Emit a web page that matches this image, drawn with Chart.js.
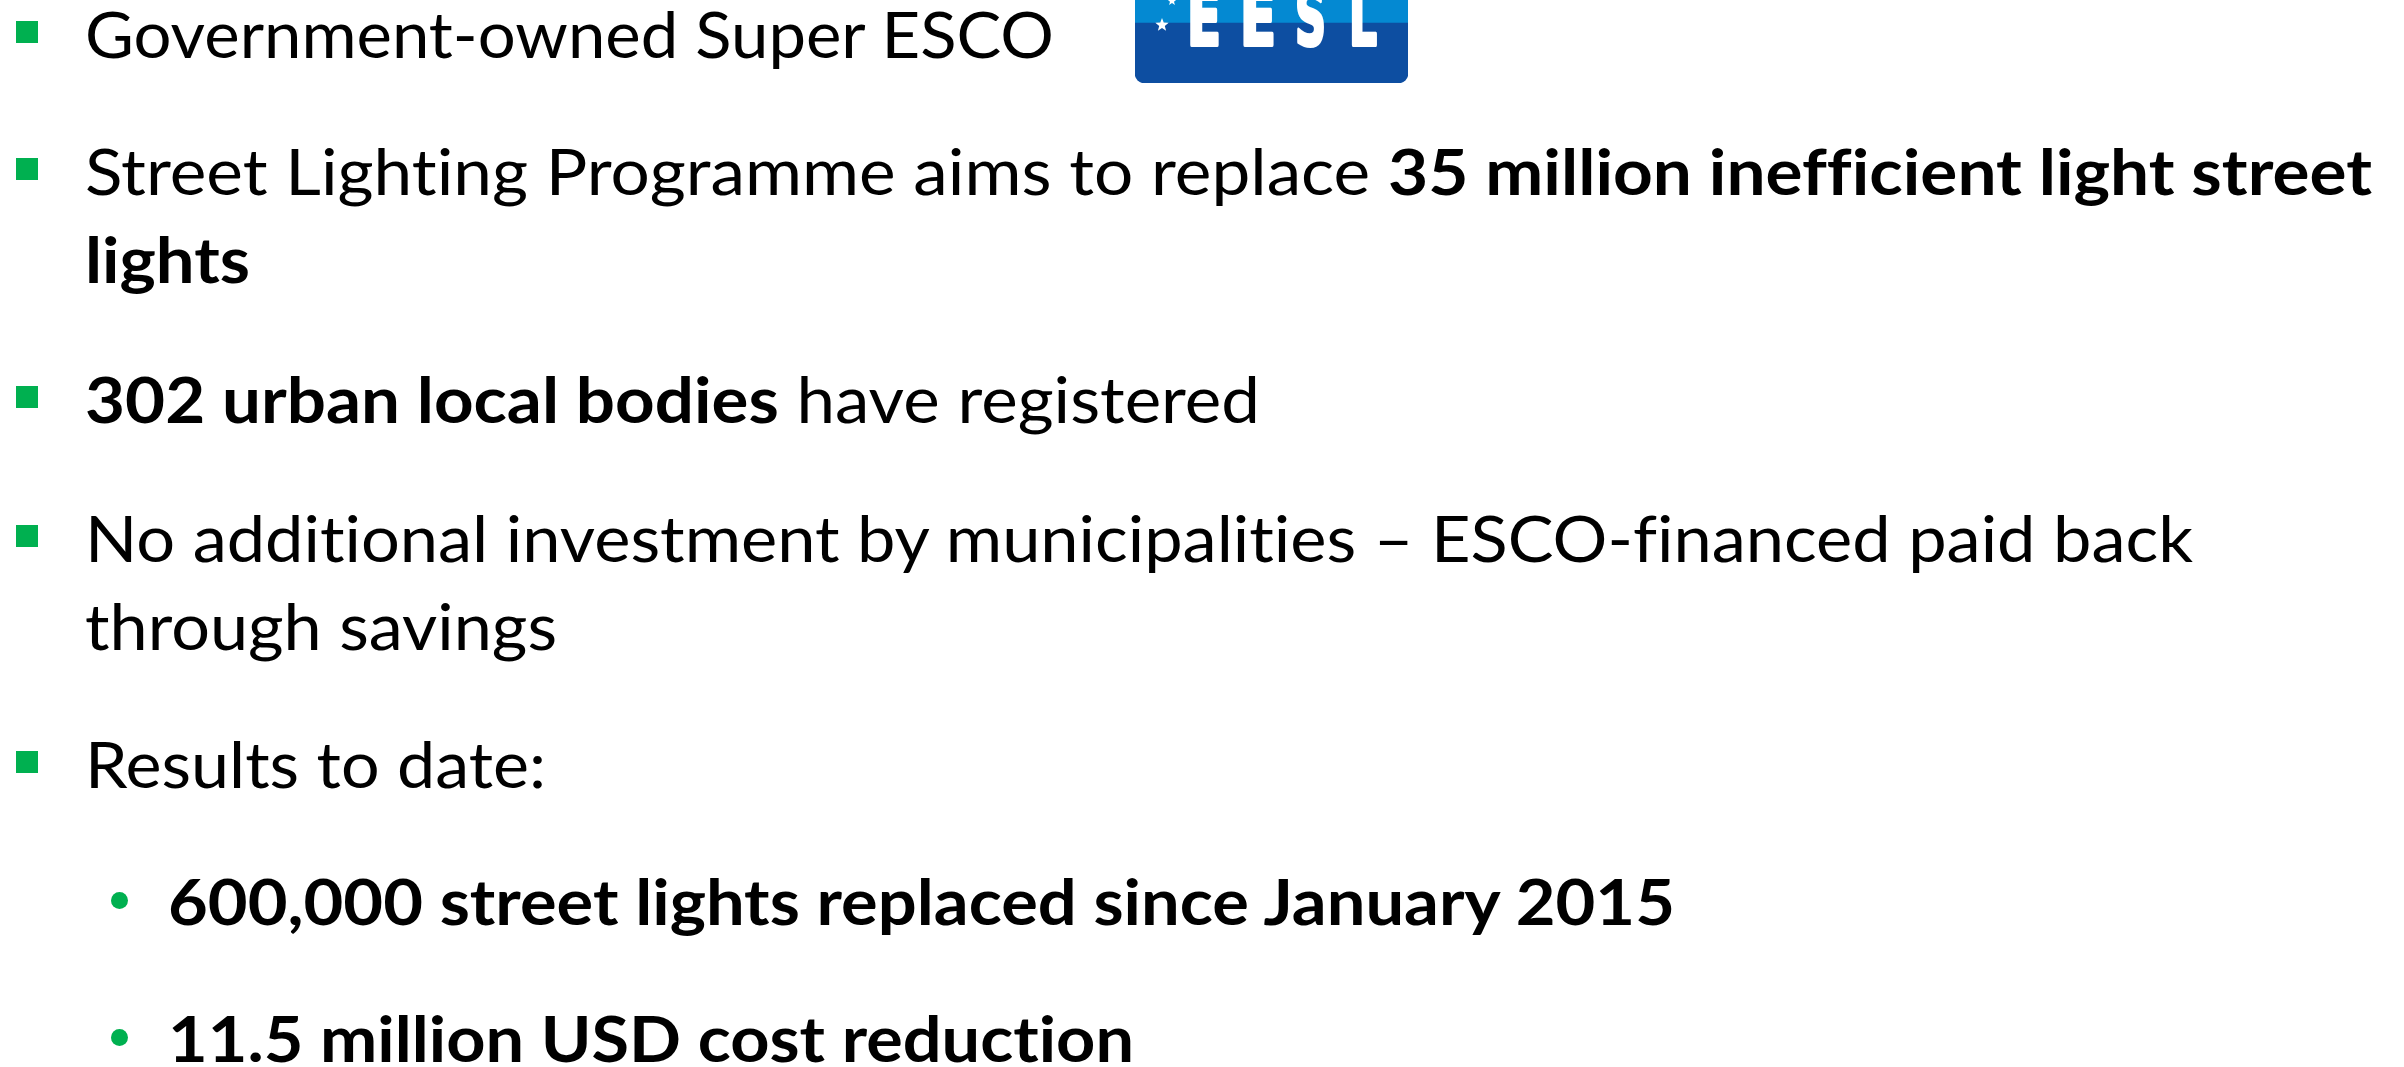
<!DOCTYPE html>
<html>
<head>
<meta charset="utf-8">
<title>EESL street lighting</title>
<script src="https://cdn.jsdelivr.net/npm/chart.js@4.4.1/dist/chart.umd.min.js"></script>
<style>
  html, body { margin: 0; padding: 0; background: #fff; }
  body {
    width: 2404px; height: 1067px; overflow: hidden; position: relative;
    font-family: Lato, "Open Sans", sans-serif; color: #000;
  }
  .line {
    position: absolute; white-space: nowrap; font-size: 64px; line-height: 0.72;
    transform-origin: 0 0; font-variant-ligatures: none;
  }
  .line .b { font-weight: 700; }
  .square { position: absolute; width: 22px; height: 22px; background: #00b050; }
  .dot { position: absolute; width: 17px; height: 17px; border-radius: 50%; background: #00b050; }
  #logo-wrap { position: absolute; left: 1135px; top: 0; width: 273px; height: 83px; }
</style>
</head>
<body>
<div id="logo-wrap"><canvas id="logo" width="273" height="83"></canvas></div>

<script>
// slide text, one entry per line: [text, bold]
const bulletText = [
  [['Government-owned Super ESCO', false]],
  [['Street Lighting Programme aims to replace ', false], ['35 million inefficient light street', true]],
  [['lights', true]],
  [['302 urban local bodies', true], [' have registered', false]],
  [['No additional investment by municipalities \u2013 ESCO-financed paid back', false]],
  [['through savings', false]],
  [['Results to date:', false]],
  [['600,000 street lights replaced since January 2015', true]],
  [['11.5 million USD cost reduction', true]]
];
const bulletMarker = ['square', 'square', '', 'square', 'square', '', 'square', 'dot', 'dot'];

// logo bands (bottom dark, top light), in logo pixels
const logoLabels = ['EESL'];
const logoDark = [60];
const logoLight = [23];

// layout measured off the slide
const lineLeft = [85, 85, 85, 85, 85, 85, 85, 168, 168];
const lineBaseline = [58, 195, 283, 423, 562, 650, 788, 925, 1062];
const lineWidth = [969, 2287, 165, 1175, 2108, 472, 461, 1507, 966];

function buildLines() {
  bulletText.forEach((parts, i) => {
    const line = document.createElement('div');
    line.className = 'line';
    parts.forEach(([text, bold]) => {
      const span = document.createElement('span');
      if (bold) span.className = 'b';
      span.textContent = text;
      line.appendChild(span);
    });
    // zero-size box sitting on the baseline, used to find it
    const probe = document.createElement('span');
    probe.style.cssText = 'display:inline-block;width:0;height:0;';
    line.appendChild(probe);
    line.style.left = lineLeft[i] + 'px';
    line.style.top = '0px';
    document.body.appendChild(line);

    const natural = line.getBoundingClientRect().width;
    const base = probe.getBoundingClientRect().top - line.getBoundingClientRect().top;
    line.style.top = (lineBaseline[i] - base) + 'px';
    line.style.transform = 'scaleX(' + (lineWidth[i] / natural) + ')';

    if (bulletMarker[i] === 'square') {
      const sq = document.createElement('div');
      sq.className = 'square';
      sq.style.left = '16px';
      sq.style.top = (lineBaseline[i] - 37) + 'px';
      document.body.appendChild(sq);
    } else if (bulletMarker[i] === 'dot') {
      const dot = document.createElement('div');
      dot.className = 'dot';
      dot.style.left = '111px';
      dot.style.top = (lineBaseline[i] - 33) + 'px';
      document.body.appendChild(dot);
    }
  });
}

// white lettering and stars on top of the logo bars
const logoMark = {
  id: 'logoMark',
  afterDatasetsDraw(chart) {
    const ctx = chart.ctx;
    ctx.save();
    ctx.fillStyle = '#fff';
    ctx.strokeStyle = '#fff';
    ctx.lineWidth = 4;
    ctx.lineJoin = 'round';
    ctx.font = 'bold 78px "DejaVu Sans"';
    ctx.textBaseline = 'alphabetic';
    const boxes = [[52, 34], [105, 36], [160, 31], [214, 28]];
    logoLabels[0].split('').forEach((ch, k) => {
      const w = ctx.measureText(ch).width;
      ctx.save();
      ctx.translate(boxes[k][0], 45);
      ctx.scale(boxes[k][1] / w, 1);
      ctx.fillText(ch, 0, 0);
      ctx.strokeText(ch, 0, 0);
      ctx.restore();
    });
    const star = (cx, cy, r) => {
      ctx.beginPath();
      for (let p = 0; p < 10; p++) {
        const rr = p % 2 ? r * 0.42 : r;
        const a = -Math.PI / 2 + p * Math.PI / 5;
        ctx.lineTo(cx + rr * Math.cos(a), cy + rr * Math.sin(a));
      }
      ctx.closePath();
      ctx.fill();
    };
    star(27, 25, 7);
    star(37, 1, 5);
    ctx.restore();
  }
};

function buildLogo() {
  const ctx = document.getElementById('logo').getContext('2d');
  new Chart(ctx, {
    type: 'bar',
    data: {
      labels: logoLabels,
      datasets: [{
        data: logoDark,
        backgroundColor: '#0d4ea1',
        borderRadius: { topLeft: 0, topRight: 0, bottomLeft: 10, bottomRight: 10 },
        borderSkipped: false,
        barPercentage: 1,
        categoryPercentage: 1
      }, {
        data: logoLight,
        backgroundColor: '#0489d2',
        borderRadius: 0,
        borderSkipped: false,
        barPercentage: 1,
        categoryPercentage: 1
      }]
    },
    options: {
      responsive: false,
      animation: false,
      events: [],
      layout: { padding: 0 },
      scales: {
        x: { display: false, stacked: true },
        y: { display: false, stacked: true, min: 0, max: 83 }
      },
      plugins: {
        legend: { display: false },
        tooltip: { enabled: false }
      }
    },
    plugins: [logoMark]
  });
}

window.addEventListener('load', function() {
  document.fonts.ready.then(function() {
    buildLines();
    buildLogo();
  });
});
</script>
</body>
</html>
